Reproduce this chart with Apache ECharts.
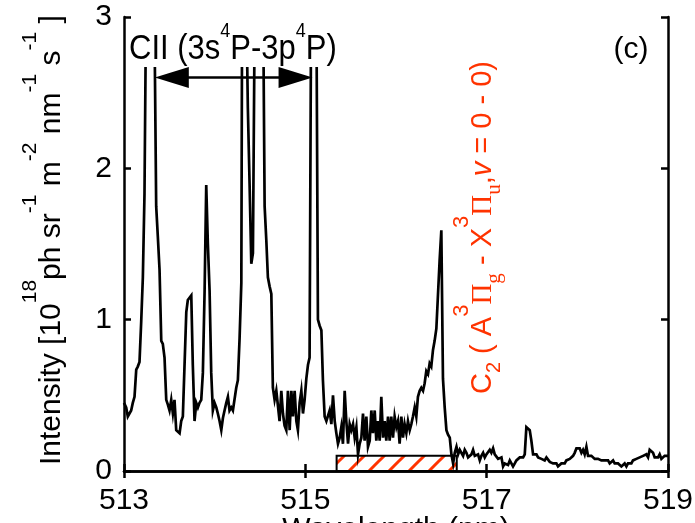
<!DOCTYPE html>
<html>
<head>
<meta charset="utf-8">
<script src="https://cdn.jsdelivr.net/npm/echarts@6/dist/echarts.min.js"></script>
<style>
  html, body { margin: 0; padding: 0; background: #ffffff; }
  #chart { width: 695px; height: 523px; }
</style>
</head>
<body>
<div id="chart"></div>
<script>
// Emission spectrum, wavelength in nm
const wavelength = [
  513.000, 513.024, 513.042, 513.061, 513.079, 513.097, 513.116, 513.135, 513.152, 513.171,
  513.190, 513.208, 513.226, 513.245, 513.263, 513.282, 513.300, 513.318, 513.337, 513.355,
  513.373, 513.392, 513.411, 513.428, 513.447, 513.466, 513.483, 513.502, 513.521, 513.539,
  513.557, 513.576, 513.594, 513.613, 513.631, 513.649, 513.668, 513.687, 513.704, 513.723,
  513.742, 513.759, 513.778, 513.797, 513.815, 513.833, 513.852, 513.870, 513.889, 513.907,
  513.925, 513.944, 513.962, 513.980, 513.999, 514.018, 514.035, 514.054, 514.073, 514.091,
  514.109, 514.128, 514.146, 514.164, 514.183, 514.201, 514.220, 514.238, 514.256, 514.275,
  514.294, 514.311, 514.330, 514.349, 514.366, 514.385, 514.404, 514.422, 514.440, 514.459,
  514.477, 514.496, 514.514, 514.532, 514.551, 514.570, 514.587, 514.606, 514.625, 514.642,
  514.661, 514.680, 514.698, 514.716, 514.735, 514.753, 514.771, 514.790, 514.808, 514.827,
  514.846, 514.863, 514.882, 514.901, 514.918, 514.937, 514.956, 514.974, 514.992, 515.011,
  515.029, 515.047, 515.066, 515.084, 515.103, 515.121, 515.139, 515.158, 515.177, 515.194,
  515.213, 515.232, 515.250, 515.268, 515.287, 515.305, 515.324, 515.342, 515.360, 515.379,
  515.397, 515.415, 515.434, 515.452, 515.471, 515.489, 515.507, 515.526, 515.544, 515.563,
  515.581, 515.599, 515.618, 515.636, 515.654, 515.673, 515.691, 515.710, 515.728, 515.746,
  515.765, 515.783, 515.801, 515.820, 515.838, 515.857, 515.875, 515.893, 515.912, 515.930,
  515.948, 515.967, 515.985, 516.004, 516.022, 516.040, 516.059, 516.077, 516.095, 516.114,
  516.132, 516.151, 516.169, 516.187, 516.206, 516.224, 516.242, 516.261, 516.279, 516.298,
  516.316, 516.334, 516.353, 516.371, 516.389, 516.408, 516.426, 516.445, 516.463, 516.481,
  516.500, 516.518, 516.537, 516.556, 516.574, 516.593, 516.611, 516.630, 516.648, 516.667,
  516.685, 516.703, 516.722, 516.740, 516.758, 516.777, 516.795, 516.814, 516.832, 516.850,
  516.869, 516.887, 516.905, 516.924, 516.942, 516.961, 516.979, 516.997, 517.016, 517.034,
  517.052, 517.071, 517.089, 517.108, 517.126, 517.144, 517.163, 517.181, 517.199, 517.218,
  517.236, 517.255, 517.273, 517.291, 517.310, 517.328, 517.346, 517.365, 517.383, 517.402,
  517.420, 517.438, 517.457, 517.475, 517.493, 517.512, 517.530, 517.549, 517.567, 517.585,
  517.604, 517.622, 517.640, 517.659, 517.677, 517.696, 517.714, 517.732, 517.751, 517.769,
  517.787, 517.806, 517.824, 517.843, 517.861, 517.879, 517.898, 517.916, 517.934, 517.953,
  517.971, 517.990, 518.008, 518.026, 518.045, 518.063, 518.081, 518.100, 518.118, 518.137,
  518.155, 518.173, 518.192, 518.210, 518.228, 518.247, 518.265, 518.284, 518.302, 518.320,
  518.339, 518.357, 518.375, 518.394, 518.412, 518.431, 518.449, 518.467, 518.486, 518.504,
  518.522, 518.541, 518.559, 518.578, 518.596, 518.614, 518.633, 518.651, 518.669, 518.688,
  518.706, 518.725, 518.743, 518.761, 518.780, 518.798, 518.816, 518.835, 518.853, 518.872,
  518.890, 518.908, 518.927, 518.945, 518.963, 518.982, 519.000
];

// Intensity, 10^18 ph sr^-1 m^-2 nm^-1 s^-1
const intensity = [
  0.45, 0.42, 0.36, 0.36, 0.40, 0.45, 0.49, 0.67, 0.69, 0.72,
  0.99, 1.28, 1.83, 3.20, 5.30, 6.40, 6.00, 4.40, 2.90, 1.75,
  1.55, 1.33, 0.86, 0.84, 0.75, 0.47, 0.44, 0.40, 0.47, 0.38,
  0.47, 0.27, 0.26, 0.25, 0.33, 0.36, 0.36, 1.05, 1.13, 1.14,
  1.16, 0.70, 0.33, 0.45, 0.42, 0.45, 0.47, 0.65, 1.19, 1.89,
  1.50, 1.19, 0.65, 0.40, 0.45, 0.42, 0.38, 0.33, 0.27, 0.35,
  0.40, 0.45, 0.49, 0.40, 0.42, 0.40, 0.40, 0.55, 0.60, 0.88,
  1.24, 4.80, 5.20, 3.10, 2.40, 1.90, 1.37, 1.44, 2.90, 4.50,
  5.50, 5.80, 4.80, 3.30, 1.75, 1.52, 1.28, 1.22, 1.17, 0.55,
  0.47, 0.53, 0.53, 0.33, 0.53, 0.38, 0.30, 0.27, 0.53, 0.27,
  0.53, 0.36, 0.53, 0.33, 0.27, 0.45, 0.53, 0.38, 0.47, 0.61,
  0.70, 0.75, 3.40, 5.60, 5.10, 3.20, 1.00, 0.96, 0.93, 0.60,
  0.36, 0.33, 0.33, 0.40, 0.31, 0.50, 0.33, 0.25, 0.18, 0.22,
  0.29, 0.18, 0.53, 0.33, 0.18, 0.31, 0.27, 0.31, 0.22, 0.29,
  0.11, 0.18, 0.22, 0.38, 0.20, 0.36, 0.16, 0.20, 0.40, 0.25,
  0.40, 0.20, 0.33, 0.20, 0.49, 0.22, 0.33, 0.20, 0.36, 0.20,
  0.36, 0.22, 0.36, 0.29, 0.33, 0.18, 0.36, 0.22, 0.31, 0.25,
  0.33, 0.27, 0.31, 0.36, 0.42, 0.36, 0.49, 0.53, 0.55, 0.53,
  0.58, 0.66, 0.64, 0.71, 0.69, 0.80, 0.86, 0.94, 0.94, 1.39,
  1.59, 0.61, 0.42, 0.27, 0.24, 0.22, 0.11, 0.05, 0.12, 0.16,
  0.11, 0.14, 0.15, 0.10, 0.14, 0.12, 0.09, 0.08, 0.11, 0.14,
  0.10, 0.09, 0.11, 0.07, 0.10, 0.12, 0.09, 0.11, 0.12, 0.14,
  0.12, 0.15, 0.11, 0.10, 0.08, 0.07, 0.09, 0.03, 0.05, 0.06,
  0.04, 0.07, 0.06, 0.03, 0.05, 0.07, 0.06, 0.09, 0.08, 0.09,
  0.11, 0.29, 0.30, 0.27, 0.20, 0.11, 0.10, 0.11, 0.09, 0.10,
  0.08, 0.09, 0.07, 0.09, 0.08, 0.06, 0.07, 0.05, 0.04, 0.05,
  0.03, 0.04, 0.05, 0.06, 0.05, 0.07, 0.06, 0.08, 0.09, 0.10,
  0.12, 0.15, 0.14, 0.15, 0.12, 0.14, 0.11, 0.16, 0.10, 0.09,
  0.10, 0.09, 0.08, 0.09, 0.08, 0.08, 0.07, 0.08, 0.07, 0.06,
  0.07, 0.05, 0.06, 0.07, 0.05, 0.04, 0.05, 0.04, 0.03, 0.04,
  0.05, 0.03, 0.05, 0.06, 0.05, 0.07, 0.06, 0.08, 0.07, 0.09,
  0.08, 0.10, 0.09, 0.11, 0.09, 0.14, 0.15, 0.12, 0.09, 0.10,
  0.09, 0.11, 0.08, 0.09, 0.10, 0.09, 0.10
];

const xTicks = [513, 515, 517, 519];
const yTicks = [0, 1, 2, 3];

// C2 Swan band region (hatched box) and the CII multiplet span (double arrow)
const swanBand = [515.345, 516.67];
const swanBoxTop = 0.10;
const ciiSpan = [513.34, 515.08];
const ciiArrowLevel = 2.6;

const RED = '#ff3300';
const FONT = 'Liberation Sans, Arial, Helvetica, sans-serif';
const SERIF = 'Liberation Serif, Times New Roman, serif';

const points = wavelength.map((w, i) => [w, intensity[i]]);

// diagonal hatch tile for the band box
const tile = document.createElement('canvas');
tile.width = 20; tile.height = 20;
const tctx = tile.getContext('2d');
tctx.strokeStyle = RED;
tctx.lineWidth = 3;
tctx.beginPath();
tctx.moveTo(-4, 24); tctx.lineTo(24, -4);
tctx.moveTo(-4, 4);  tctx.lineTo(4, -4);
tctx.moveTo(16, 24); tctx.lineTo(24, 16);
tctx.stroke();

const axisLine = { show: true, lineStyle: { color: '#000', width: 2.5 } };
const tick = { show: true, inside: true, length: 7, lineStyle: { color: '#000', width: 2.5 } };

const chart = echarts.init(document.getElementById('chart'), null, { renderer: 'canvas' });

chart.setOption({
  backgroundColor: '#ffffff',
  animation: false,
  grid: { left: 124, top: 17, width: 544, height: 454, outerBoundsMode: 'none', containLabel: false },
  xAxis: [
    {
      type: 'value', position: 'bottom', z: 10,
      min: xTicks[0], max: xTicks[xTicks.length - 1], interval: xTicks[1] - xTicks[0],
      axisLine, axisTick: tick, splitLine: { show: false },
      axisLabel: { color: '#000', fontSize: 30, fontFamily: FONT, margin: 15 },
      name: 'Wavelength (nm)', nameLocation: 'middle', nameGap: 44, nameMoveOverlap: false,
      nameTextStyle: { color: '#000', fontSize: 30, fontFamily: FONT }
    },
    {
      type: 'value', position: 'top', z: 10,
      min: xTicks[0], max: xTicks[xTicks.length - 1], interval: xTicks[1] - xTicks[0],
      axisLine, axisTick: tick, splitLine: { show: false }, axisLabel: { show: false }
    }
  ],
  yAxis: [
    {
      type: 'value', position: 'left', z: 10,
      min: yTicks[0], max: yTicks[yTicks.length - 1], interval: yTicks[1] - yTicks[0],
      axisLine, axisTick: tick, splitLine: { show: false },
      axisLabel: { color: '#000', fontSize: 30, fontFamily: FONT, margin: 12 }
    },
    {
      type: 'value', position: 'right', z: 10,
      min: yTicks[0], max: yTicks[yTicks.length - 1], interval: yTicks[1] - yTicks[0],
      axisLine, axisTick: tick, splitLine: { show: false }, axisLabel: { show: false }
    }
  ],
  series: [{
    type: 'line',
    data: points,
    showSymbol: false,
    clip: true,
    z: 2,
    lineStyle: { color: '#000', width: 2.7, join: 'miter' },
    markArea: {
      silent: true,
      itemStyle: { color: { image: tile, repeat: 'repeat' }, borderColor: '#000', borderWidth: 2 },
      data: [[{ xAxis: swanBand[0], yAxis: 0 }, { xAxis: swanBand[1], yAxis: swanBoxTop }]]
    }
  }]
});

// annotations: label box, double arrow, axis title, band label, panel tag
const toPx = (x, y) => chart.convertToPixel({ gridIndex: 0 }, [x, y]);
const aL = toPx(ciiSpan[0], ciiArrowLevel);
const aR = toPx(ciiSpan[1], ciiArrowLevel);
const HEAD = 34, HALF = 10.5;

const sup = (size, raise) => ({ fontSize: size, lineHeight: size, fontFamily: FONT, verticalAlign: 'bottom', padding: [0, 0, raise, 0] });

chart.setOption({
  graphic: [
    {
      type: 'rect', z: 5, silent: true,
      shape: { x: 126, y: 12, width: 215, height: 55 },
      style: { fill: '#ffffff' }
    },
    {
      type: 'text', z: 60, silent: true,
      x: 129, y: 66.5, scaleY: 1.12,
      style: {
        x: 0, y: 0, align: 'left', verticalAlign: 'bottom',
        text: '{b|CII (3s}{s|4}{b|P-3p}{s|4}{b|P)}',
        fill: '#000',
        rich: {
          b: { fontSize: 31, lineHeight: 31, fontFamily: FONT, verticalAlign: 'bottom', padding: [0, 0, 0, 0] },
          s: sup(18, 22)
        }
      }
    },
    {
      type: 'line', z: 60, silent: true,
      shape: { x1: aL[0] + HEAD - 2, y1: aL[1], x2: aR[0] - HEAD + 2, y2: aR[1] },
      style: { stroke: '#000', lineWidth: 2.5 }
    },
    {
      type: 'polygon', z: 60, silent: true,
      shape: { points: [[aL[0], aL[1]], [aL[0] + HEAD, aL[1] - HALF], [aL[0] + HEAD, aL[1] + HALF]] },
      style: { fill: '#000' }
    },
    {
      type: 'polygon', z: 60, silent: true,
      shape: { points: [[aR[0], aR[1]], [aR[0] - HEAD, aR[1] - HALF], [aR[0] - HEAD, aR[1] + HALF]] },
      style: { fill: '#000' }
    },
    {
      type: 'text', z: 60, silent: true,
      x: 66.5, y: 465, rotation: Math.PI / 2,
      style: {
        x: 0, y: 0, align: 'left', verticalAlign: 'bottom',
        text: '{b|Intensity [10}{s|18}{b|ph sr}{s|-1}{b| m}{s|-2}{b| nm}{s|-1}{b| s}{s|-1}{b| ]}',
        fill: '#000',
        rich: {
          b: { fontSize: 30, lineHeight: 30, fontFamily: FONT, verticalAlign: 'bottom', padding: [0, 0, 0, 0] },
          s: sup(21, 26)
        }
      }
    },
    {
      type: 'text', z: 60, silent: true,
      x: 505.5, y: 394, rotation: Math.PI / 2,
      style: {
        x: 0, y: 0, align: 'left', verticalAlign: 'bottom',
        text: '{b|C}{sub|2}{b| ( A}{sup|3}{p|Π}{psub|g}{b| - X}{sup|3}{p|Π}{psub|u}{b|,}{v|v}{b| = 0 - 0)}',
        fill: RED,
        rich: {
          b: { fontSize: 29, lineHeight: 29, fontFamily: FONT, verticalAlign: 'bottom', padding: [0, 0, 8, 0], fill: RED },
          p: { fontSize: 29, lineHeight: 29, fontFamily: SERIF, verticalAlign: 'bottom', padding: [0, 0, 8, 0], fill: RED },
          v: { fontSize: 29, lineHeight: 29, fontFamily: FONT, fontStyle: 'italic', verticalAlign: 'bottom', padding: [0, 0, 8, 0], fill: RED },
          sub: { fontSize: 20, lineHeight: 20, fontFamily: FONT, verticalAlign: 'bottom', padding: [0, 0, 1, 0], fill: RED },
          psub: { fontSize: 21, lineHeight: 21, fontFamily: SERIF, verticalAlign: 'bottom', padding: [0, 0, 1, 0], fill: RED },
          sup: { fontSize: 22, lineHeight: 22, fontFamily: FONT, verticalAlign: 'bottom', padding: [0, 0, 33, 0], fill: RED }
        }
      }
    },
    {
      type: 'text', z: 60, silent: true,
      style: {
        x: 631, y: 50, align: 'center', verticalAlign: 'middle',
        text: '(c)', fill: '#000', fontSize: 30, fontFamily: FONT
      }
    }
  ]
});
</script>
</body>
</html>
